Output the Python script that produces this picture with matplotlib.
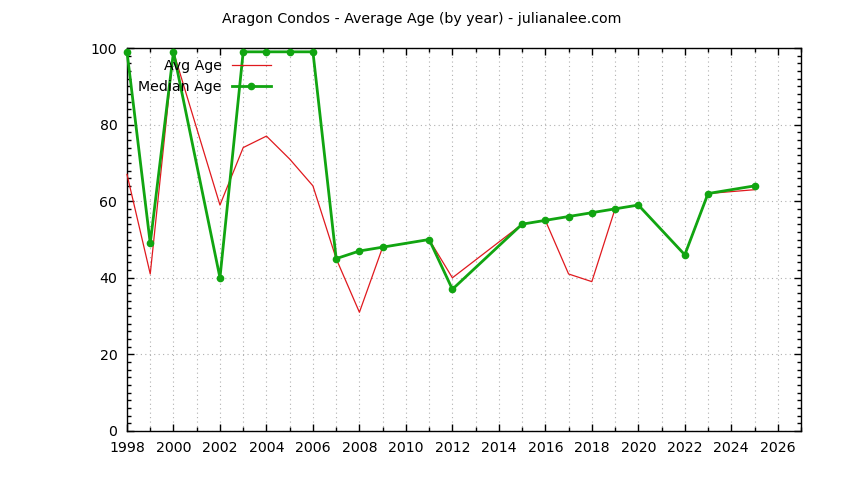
import numpy as np
import matplotlib
matplotlib.use("Agg")
import matplotlib.pyplot as plt
from matplotlib.ticker import MultipleLocator

# Average age per year (red)
avg_years = [1998, 1999, 2000, 2002, 2003, 2004, 2005, 2006, 2007, 2008, 2009,
             2011, 2012, 2015, 2016, 2017, 2018, 2019, 2020, 2022, 2023, 2025]
avg_age = [67, 41, 99, 59, 74, 77, 71, 64, 45, 31, 48,
           50, 40, 54, 55, 41, 39, 58, 59, 46, 62, 63]

# Median age per year (green)
med_years = avg_years
med_age = [99, 49, 99, 40, 99, 99, 99, 99, 45, 47, 48,
           50, 37, 54, 55, 56, 57, 58, 59, 46, 62, 64]

x_ticks = list(range(1998, 2027, 2))
y_ticks = [0, 20, 40, 60, 80, 100]

plt.rcParams['font.family'] = ['DejaVu Sans']
plt.rcParams['font.size'] = 10.2

fig = plt.figure(figsize=(8.44, 4.8), dpi=100)
ax = fig.add_axes([127 / 844, 49 / 480, 674 / 844, 383 / 480])

ax.plot(avg_years, avg_age, color='#e0191e', lw=0.9, label='Avg Age', zorder=3)
ax.plot(med_years, med_age, color='#11a511', lw=2.0, marker='o', ms=4.5,
        label='Median Age', zorder=4)

ax.set_xlim(1998, 2027)
ax.set_ylim(0, 100)
ax.set_xticks(x_ticks)
ax.set_yticks(y_ticks)
ax.xaxis.set_minor_locator(MultipleLocator(1))
ax.yaxis.set_minor_locator(MultipleLocator(2))
ax.tick_params(which='both', direction='in', top=True, right=True, width=1)
ax.tick_params(which='major', length=5, pad=7)
ax.tick_params(which='minor', length=3)

ax.grid(True, which='both', axis='x', color='#b0b0b0', ls=(0, (1, 3)), lw=0.8)
ax.grid(True, which='major', axis='y', color='#b0b0b0', ls=(0, (1, 3)), lw=0.8)
ax.set_axisbelow(True)
for s in ax.spines.values():
    s.set_linewidth(1.0)

for line in ax.lines:
    line.set_clip_on(False)

ax.legend(loc='upper left', bbox_to_anchor=(0.004, 0.993), frameon=False,
          markerfirst=False, handlelength=2.8, handletextpad=0.7,
          labelspacing=0.45, borderaxespad=0.2, fontsize=10.2)

fig.suptitle('Aragon Condos - Average Age (by year) - julianalee.com',
             y=0.975, fontsize=10.2)

fig.savefig('out.png', dpi=100)
